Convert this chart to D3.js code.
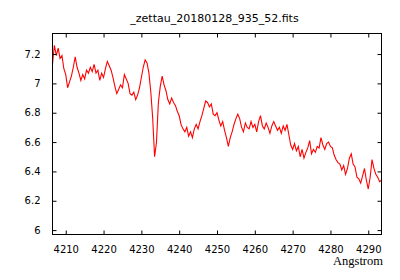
<!DOCTYPE html>
<html><head><meta charset="utf-8">
<script src="https://cdn.jsdelivr.net/npm/d3@7"></script>
<style>body{margin:0;background:#fff}svg{display:block}</style>
</head><body><svg id="c" width="400" height="280"></svg>
<script>
const title = "_zettau_20180128_935_52.fits";
const xLabel = "Angstrom";
const xTicks = [4210, 4220, 4230, 4240, 4250, 4260, 4270, 4280, 4290];
const yTicks = [6, 6.2, 6.4, 6.6, 6.8, 7, 7.2];
const xDomain = [4206.5, 4293.5];
const yDomain = [5.97, 7.34];

const wavelength = [
4206.5,4207,4207.5,4208,4208.5,4209,4209.5,4210,4210.5,4211,
4211.5,4212,4212.5,4213,4213.5,4214,4214.5,4215,4215.5,4216,
4216.5,4217,4217.5,4218,4218.5,4219,4219.5,4220,4220.5,4221,
4221.5,4222,4222.5,4223,4223.5,4224,4224.5,4225,4225.5,4226,
4226.5,4227,4227.5,4228,4228.5,4229,4229.5,4230,4230.5,4231,
4231.5,4232,4232.5,4233,4233.5,4234,4234.5,4235,4235.5,4236,
4236.5,4237,4237.5,4238,4238.5,4239,4239.5,4240,4240.5,4241,
4241.5,4242,4242.5,4243,4243.5,4244,4244.5,4245,4245.5,4246,
4246.5,4247,4247.5,4248,4248.5,4249,4249.5,4250,4250.5,4251,
4251.5,4252,4252.5,4253,4253.5,4254,4254.5,4255,4255.5,4256,
4256.5,4257,4257.5,4258,4258.5,4259,4259.5,4260,4260.5,4261,
4261.5,4262,4262.5,4263,4263.5,4264,4264.5,4265,4265.5,4266,
4266.5,4267,4267.5,4268,4268.5,4269,4269.5,4270,4270.5,4271,
4271.5,4272,4272.5,4273,4273.5,4274,4274.5,4275,4275.5,4276,
4276.5,4277,4277.5,4278,4278.5,4279,4279.5,4280,4280.5,4281,
4281.5,4282,4282.5,4283,4283.5,4284,4284.5,4285,4285.5,4286,
4286.5,4287,4287.5,4288,4288.5,4289,4289.5,4290,4290.5,4291,
4291.5,4292,4292.5,4293,4293.5
];

const flux = [
7.13, 7.26, 7.19, 7.24, 7.17, 7.19, 7.10, 7.06, 6.97, 7.01,
7.05, 7.11, 7.18, 7.11, 7.07, 7.02, 7.06, 7.03, 7.09, 7.07,
7.11, 7.08, 7.13, 7.07, 7.09, 7.02, 7.07, 7.04, 7.10, 7.15,
7.12, 7.09, 7.04, 6.98, 6.93,
6.96, 6.99, 6.97, 7.06, 7.03, 7.00, 6.93, 6.92, 6.94, 6.89,
6.92, 6.97, 7.04, 7.11, 7.16, 7.14, 7.07, 6.94, 6.76, 6.50,
6.60, 6.87, 6.98, 7.05, 6.99, 6.95, 6.89, 6.86, 6.90, 6.87,
6.85, 6.81, 6.78, 6.72, 6.69,
6.67, 6.70, 6.64, 6.67, 6.63, 6.69, 6.72, 6.69, 6.74, 6.78,
6.83, 6.88, 6.87, 6.84, 6.86, 6.79, 6.78, 6.80, 6.75, 6.71,
6.74, 6.68, 6.63, 6.57, 6.63, 6.67, 6.72, 6.76, 6.79, 6.76,
6.70, 6.67, 6.73, 6.70,
6.69, 6.74, 6.70, 6.72, 6.67, 6.74, 6.78, 6.71, 6.69, 6.73,
6.70, 6.66, 6.71, 6.74, 6.71, 6.68, 6.70, 6.66, 6.71, 6.68,
6.72, 6.65, 6.58, 6.55, 6.59, 6.54, 6.57, 6.50, 6.55, 6.49,
6.53, 6.56, 6.61, 6.52, 6.55,
6.53, 6.57, 6.56, 6.63, 6.58, 6.55, 6.59, 6.60, 6.57, 6.56,
6.51, 6.48, 6.46, 6.45, 6.41, 6.44, 6.38, 6.42, 6.49, 6.52,
6.45, 6.43, 6.36, 6.35, 6.32, 6.37, 6.42, 6.34, 6.28, 6.36,
6.48, 6.42, 6.38, 6.36, 6.33, 6.34
];

const svg = d3.select("#c");
const L = 52.5, R = 381.5, T = 33.5, B = 234.5;
const x = d3.scaleLinear().domain(xDomain).range([L, R]);
const y = d3.scaleLinear().domain(yDomain).range([B, T]);

const tickFont = "DejaVu Sans, sans-serif";

const pts = wavelength.map((w, i) => [w, flux[i]]);
svg.append("path")
  .datum(pts)
  .attr("fill", "none")
  .attr("stroke", "#ff0000")
  .attr("stroke-width", 1.1)
  .attr("d", d3.line().x(d => x(d[0])).y(d => y(d[1])));

function styleAxis(g, showText) {
  g.select(".domain").remove();
  g.selectAll(".tick line").attr("stroke", "#000");
  g.selectAll("text").attr("fill", "#000").style("font-family", tickFont).style("font-size", "10px");
  if (!showText) g.selectAll("text").remove();
}

svg.append("g").attr("transform", `translate(0,${B})`)
  .call(d3.axisBottom(x).tickValues(xTicks).tickSizeInner(-4).tickSizeOuter(0).tickPadding(11).tickFormat(d3.format("d")))
  .call(g => styleAxis(g, true));
svg.append("g").attr("transform", `translate(0,${T})`)
  .call(d3.axisTop(x).tickValues(xTicks).tickSizeInner(-4).tickSizeOuter(0))
  .call(g => styleAxis(g, false));
svg.append("g").attr("transform", `translate(${L},0)`)
  .call(d3.axisLeft(y).tickValues(yTicks).tickSizeInner(-4).tickSizeOuter(0).tickPadding(12).tickFormat(d => String(+d.toFixed(1))))
  .call(g => styleAxis(g, true));
svg.append("g").attr("transform", `translate(${R},0)`)
  .call(d3.axisRight(y).tickValues(yTicks).tickSizeInner(-4).tickSizeOuter(0))
  .call(g => styleAxis(g, false));

svg.append("rect")
  .attr("x", L).attr("y", T).attr("width", R - L).attr("height", B - T)
  .attr("fill", "none").attr("stroke", "#000").attr("stroke-width", 1);

svg.append("text")
  .attr("x", 214.5).attr("y", 22)
  .attr("text-anchor", "middle")
  .style("font-family", tickFont).style("font-size", "11px")
  .text(title);

svg.append("text")
  .attr("x", 383).attr("y", 264.5)
  .attr("text-anchor", "end")
  .style("font-family", "Liberation Serif, serif").style("font-size", "12.5px")
  .text(xLabel);
</script></body></html>
